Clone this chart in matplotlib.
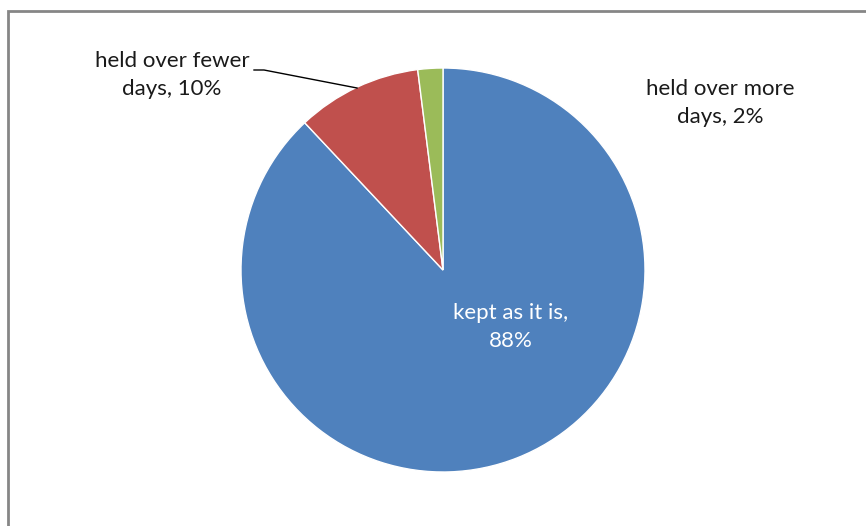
import matplotlib.pyplot as plt
from matplotlib.patches import Rectangle

labels = ["kept as it is", "held over fewer days", "held over more days"]
shares = [88, 10, 2]
colors = ["#4F81BD", "#C0504D", "#9BBB59"]

W, H = 866, 526
plt.rcParams['font.family'] = ['Lato', 'DejaVu Sans']

fig = plt.figure(figsize=(W / 100, H / 100), dpi=100)
ax = fig.add_axes([0, 0, 1, 1])

# chart frame, partly outside the picture
ax.add_patch(Rectangle((8, -20), 900, H - 11 + 20, fill=False,
                       edgecolor="#868686", linewidth=2))

cx, cy, r = 443, H - 270, 202
ax.pie(shares, colors=colors, startangle=90, counterclock=False,
       center=(cx, cy), radius=r, frame=True,
       wedgeprops=dict(edgecolor="white", linewidth=1))
ax.set_xlim(0, W)
ax.set_ylim(0, H)
ax.axis("off")

fs = 16
ax.text(172, H - 75, "held over fewer\ndays, %d%%" % shares[1], ha="center",
        va="center", fontsize=fs, color="#1a1a1a", linespacing=1.5)
ax.text(720, H - 103, "held over more\ndays, %d%%" % shares[2], ha="center",
        va="center", fontsize=fs, color="#1a1a1a", linespacing=1.5)
ax.text(511, H - 327, "kept as it is,\n%d%%" % shares[0], ha="center",
        va="center", fontsize=fs, color="white", linespacing=1.5)

ax.plot([254, 264, 357], [H - 70, H - 70, H - 88], color="black", linewidth=1)

fig.savefig("out.png", dpi=100)
